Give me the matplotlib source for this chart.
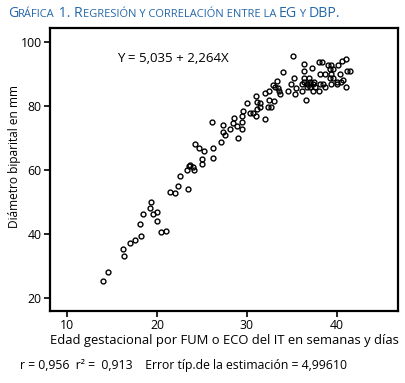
import matplotlib
matplotlib.use('Agg')
import matplotlib.pyplot as plt

# edad gestacional (semanas) y diametro biparietal (mm)
eg = [14.0, 14.5, 16.2, 16.3, 17.0, 17.6, 18.2, 18.1, 18.4, 19.2, 19.3, 19.6, 20.0, 20.0, 20.4, 21.0,
      21.4, 22.0, 22.3, 23.5, 22.6, 23.3, 23.6, 23.7, 24.0, 24.1, 24.2, 24.7, 25.2, 25.0, 25.0,
      26.1, 26.2, 26.2, 27.1, 27.3, 27.3, 27.6, 28.1, 28.5, 28.6, 28.9, 29.0, 29.4, 29.5, 29.4, 29.6,
      30.0, 30.3, 30.7, 31.0, 31.1, 31.1, 31.0, 31.5, 31.4, 32.0, 32.0, 32.3, 32.7, 32.5, 33.0,
      32.5, 32.9, 33.3, 33.1, 33.5, 33.6, 33.7,
      34.0, 35.1, 35.2, 34.9, 35.5, 35.3, 34.6, 36.3, 36.3, 36.3, 36.1, 36.4, 36.1, 36.6, 37.2,
      36.9, 36.7, 37.0, 37.3, 37.0, 37.5, 37.3, 37.6, 36.7, 37.0,
      38.0, 38.4, 38.1, 38.7, 38.1, 38.0, 38.5, 38.7, 39.0, 39.4, 39.2, 39.6, 39.4, 39.2, 39.6,
      40.1, 40.6, 41.0, 40.3, 40.0, 40.5, 39.4, 40.0, 40.7, 41.1, 41.5, 41.0]
dbp = [25.3, 28.2, 35.3, 33.1, 37.1, 38.1, 39.2, 43.1, 46.2, 48.2, 50.1, 46.3, 46.9, 44.1, 40.7, 41.0,
       53.0, 52.9, 55.0, 54.2, 58.0, 60.0, 61.3, 61.6, 60.9, 60.0, 68.0, 67.0, 65.9, 63.3, 61.8,
       74.9, 66.9, 63.9, 68.8, 71.8, 74.1, 70.8, 72.8, 74.8, 76.3, 73.8, 70.0, 72.9, 75.0, 76.9, 78.5,
       80.8, 77.7, 77.7, 83.2, 81.4, 79.0, 76.9, 80.8, 79.8, 75.9, 84.2, 79.8, 79.8, 81.9, 81.7,
       84.8, 86.6, 87.8, 85.8, 85.7, 84.8, 83.8,
       90.7, 95.7, 88.8, 86.8, 85.7, 83.8, 84.8, 93.0, 90.9, 88.7, 86.9, 87.4, 84.8, 81.9, 91.8,
       88.7, 86.8, 86.8, 86.8, 87.6, 87.6, 84.8, 85.8, 85.8, 85.8,
       93.8, 93.8, 89.9, 89.9, 86.9, 84.8, 86.8, 85.8, 92.8, 92.8, 91.6, 91.6, 90.0, 88.7, 88.7,
       92.8, 94.1, 94.7, 89.9, 87.6, 87.6, 86.8, 86.8, 88.1, 90.9, 90.9, 85.8]

x_ticks = [10, 20, 30, 40]
y_ticks = [20, 40, 60, 80, 100]

# titulo en versalitas: (texto, grande?)
title_parts = [('G', True), ('RÁFICA', False), (' 1. R', True),
               ('EGRESIÓN Y CORRELACIÓN ENTRE LA ', False), ('EG', True),
               (' Y ', False), ('DBP.', True)]

plt.rcParams['font.family'] = ['Open Sans', 'DejaVu Sans']

fig = plt.figure(figsize=(4.06, 3.83), dpi=100)
ax = fig.add_axes([50 / 406, 1 - 311 / 383, 348 / 406, 283 / 383])

ax.plot(eg, dbp, 'o', markersize=3.5, markerfacecolor='none',
        markeredgecolor='black', markeredgewidth=1.0)

ax.set_xlim(8.1, 46.8)
ax.set_ylim(15.9, 104.4)
ax.set_xticks(x_ticks)
ax.set_yticks(y_ticks)
ax.tick_params(direction='out', length=4, width=1.2, labelsize=8.8, pad=2)
for s in ax.spines.values():
    s.set_linewidth(1.6)

ax.text(21.8, 95, 'Y = 5,035 + 2,264X', fontsize=9.5, ha='center', va='center')

ax.set_xlabel('Edad gestacional por FUM o ECO del IT en semanas y días', fontsize=9.4, labelpad=1)
fig.text(15 / 406, 1 - 156 / 383, 'Diámetro biparital en mm', rotation=90,
         fontsize=8.6, ha='center', va='center')

fig.text(20 / 406, 1 - 369 / 383,
         'r = 0,956  r² =  0,913    Error típ.de la estimación = 4,99610',
         fontsize=8.8, ha='left', va='baseline')

# titulo
fig.canvas.draw()
r = fig.canvas.get_renderer()
xpos = 8 / 406
for s, big in title_parts:
    t = fig.text(xpos, 1 - 17 / 383, s, fontsize=10.2 if big else 8.0,
                 color='#2467aa', ha='left', va='baseline')
    bb = t.get_window_extent(r)
    xpos += bb.width / fig.bbox.width

fig.savefig('out.png', dpi=100)
